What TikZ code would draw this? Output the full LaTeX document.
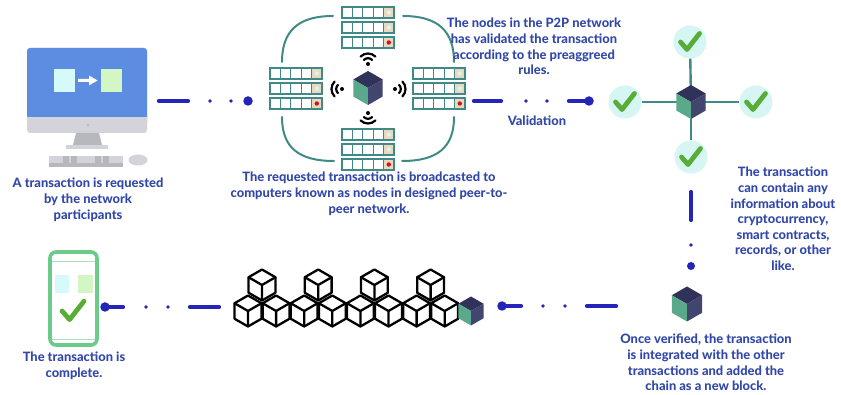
\documentclass[tikz,border=0pt]{standalone}
\usepackage{fontspec}
\setmainfont{Lato}[BoldFont={Lato Heavy}]
\usetikzlibrary{calc}

\definecolor{txtblue}{HTML}{3248A8}
\definecolor{linkblue}{HTML}{2424B8}
\definecolor{netteal}{HTML}{3F8A85}
\definecolor{screenblue}{HTML}{5D8DE0}
\definecolor{bezelgray}{HTML}{D3D4D9}
\definecolor{standgray}{HTML}{B7B8BE}
\definecolor{paleicy}{HTML}{D6FAFA}
\definecolor{palegreen}{HTML}{D2F7C5}
\definecolor{rackbeige}{HTML}{EAD8BF}
\definecolor{ledred}{HTML}{D0141E}
\definecolor{ledcyan}{HTML}{D4F7F5}
\definecolor{cubetop}{HTML}{30325A}
\definecolor{cubeleft}{HTML}{59A98A}
\definecolor{cuberight}{HTML}{42466F}
\definecolor{checkgreen}{HTML}{58AD37}
\definecolor{checkring}{HTML}{D6F6F4}
\definecolor{phonegreen}{HTML}{6CCB8B}

\tikzset{
  lbl/.style={text=txtblue, font=\bfseries\fontsize{12.9}{15.6}\selectfont,
    align=center, inner sep=0pt, anchor=north},
  link/.style={draw=linkblue, line width=4.2pt, line cap=round},
  dotsm/.style={circle, fill=linkblue, inner sep=0pt, minimum size=3.8pt},
  ball/.style={circle, fill=linkblue, inner sep=0pt, minimum size=9.5pt},
  arcline/.style={draw=netteal, line width=2pt, line cap=round},
  spoke/.style={draw=netteal, line width=2.4pt},
  ring/.style={circle, fill=checkring, inner sep=0pt, minimum size=33pt},
  % isometric cube, filled faces, unit radius
  solidcube/.pic={
    \fill[cubetop] (0,-1) -- (0.866,-0.5) -- (0,0) -- (-0.866,-0.5) -- cycle;
    \fill[cubeleft] (-0.866,-0.5) -- (0,0) -- (0,1) -- (-0.866,0.5) -- cycle;
    \fill[cuberight] (0,0) -- (0.866,-0.5) -- (0.866,0.5) -- (0,1) -- cycle;
  },
  % line-art cube, unit radius
  outlinecube/.pic={
    \draw[fill=white, line width=2.3pt, line join=round]
      (0,-1) -- (0.866,-0.5) -- (0.866,0.5) -- (0,1) -- (-0.866,0.5) -- (-0.866,-0.5) -- cycle;
    \draw[line width=2.3pt, line join=round, line cap=round]
      (-0.866,-0.5) -- (0,0) -- (0.866,-0.5) (0,0) -- (0,1);
  },
  % signal icon, radiating upwards from its dot
  wifi/.pic={
    \fill (0,0) circle[radius=2];
    \draw[line width=2.2pt, line cap=round] (-135:5.8) arc[start angle=-135, end angle=-45, radius=5.8];
    \draw[line width=2.2pt, line cap=round] (-135:10.5) arc[start angle=-135, end angle=-45, radius=10.5];
  },
  % three-unit server rack, origin at top left
  rack/.pic={
    \foreach \r/\led in {0/ledcyan, 15/ledcyan, 30/ledred}{
      \fill[white] (0,\r) rectangle (52,\r+11);
      \fill[rackbeige] (41.6,\r) rectangle (52,\r+11);
      \draw[netteal, line width=1.5pt] (0,\r) rectangle (52,\r+11);
      \foreach \c in {10.4,20.8,31.2,41.6}
        \draw[netteal, line width=1.3pt] (\c,\r) -- (\c,\r+11);
      \fill[\led] (46.8,\r+5.5) circle[radius=2.2];
    }
  },
  tick/.pic={
    \draw[checkgreen, line width=4.8pt, line cap=round, line join=round]
      (-9.5,0) -- (-3,7.5) -- (9.5,-8.5);
  },
}

\begin{document}
\begin{tikzpicture}[x=1pt, y=-1pt]
\useasboundingbox (0,0) rectangle (841,395);
\fill[white] (0,0) rectangle (841,395);

% ---------- desktop computer ----------
\fill[bezelgray, rounded corners=3pt] (27,48) rectangle (147,133);
\fill[screenblue, rounded corners=3pt] (27,48) rectangle (147,125);
\fill[bezelgray] (27,117) rectangle (147,125);
\fill[standgray] (88,125) circle[radius=1.4];
\fill[paleicy] (54,69) rectangle (75,92);
\fill[palegreen] (101,69) rectangle (122,92);
\fill[white] (78,79) -- (89,79) -- (89,75.5) -- (97.5,80.5) -- (89,85.5) -- (89,82) -- (78,82) -- cycle;
\fill[standgray] (76,133) -- (99,133) -- (102,145) -- (73,145) -- cycle;
\fill[bezelgray] (66,145) rectangle (108,149.5);
\fill[bezelgray] (49,156) rectangle (123,163);
\fill[standgray] (49,163) rectangle (123,167.5);
\fill[standgray] (63,156) rectangle (69,163);
\fill[standgray] (71,156) rectangle (77,163);
\fill[standgray] (95,156) rectangle (101,163);
\fill[standgray] (103,156) rectangle (109,163);
\fill[bezelgray] (138,160) ellipse[x radius=9.5, y radius=5.5];

\node[lbl] (t1) at (88,178) {A transaction is requested\\by the network\\participants};

% ---------- link: request -> network ----------
\coordinate (c1s) at (159,101);
\coordinate (c1e) at (188,101);
\draw[link] (c1s) -- (c1e);
\node[dotsm] (c1d1) at (210,101) {};
\node[dotsm] (c1d2) at (231,101) {};
\node[ball] (c1b) at (248,101) {};

% ---------- peer-to-peer network ----------
\draw[arcline] (333,16) .. controls (298,16) and (282,31) .. (282,62);
\draw[arcline] (403,16) .. controls (438,16) and (454,31) .. (454,62);
\draw[arcline] (282,117) .. controls (282,147) and (298,161) .. (334,161);
\draw[arcline] (454,117) .. controls (454,147) and (438,161) .. (402,161);

\pic at (342,7) {rack};
\pic at (270,68) {rack};
\pic at (413,68) {rack};
\pic at (342,129) {rack};

\pic at (368,64) {wifi};
\pic[rotate=90] at (342,89) {wifi};
\pic[rotate=-90] at (395,89) {wifi};
\pic[rotate=180] at (368,113) {wifi};

\pic[scale=17] at (368,88) {solidcube};

\node[lbl] (t2) at (369,172) {The requested transaction is broadcasted to\\computers known as nodes in designed peer-to-\\peer network.};

\node[lbl] (t3) at (534,18) {The nodes in the P2P network\\has validated the transaction\\according to the preaggreed\\rules.};

% ---------- link: network -> validation ----------
\coordinate (c2s) at (474,101);
\coordinate (c2e) at (501,101);
\draw[link] (c2s) -- (c2e);
\node[dotsm] (c2d1) at (526,101) {};
\node[dotsm] (c2d2) at (547,101) {};
\node[ball] (c2b) at (589,101) {};
\coordinate (c2t) at (569,101);
\draw[link] (c2t) -- (c2b.center);
\node[lbl] (t4) at (537,116) {Validation};

% ---------- validation cluster ----------
\node[ring] (vt) at (690,42) {};
\node[ring] (vl) at (625,102) {};
\node[ring] (vr) at (756,102) {};
\node[ring] (vb) at (691,157) {};
\coordinate (vc) at (691,102);
\draw[spoke] (vt) -- (vc);
\draw[spoke] (vl) -- (vc);
\draw[spoke] (vr) -- (vc);
\draw[spoke] (vb) -- (vc);
\pic[scale=17] at (691,102) {solidcube};
\pic at (vt.center) {tick};
\pic at (vl.center) {tick};
\pic at (vr.center) {tick};
\pic at (vb.center) {tick};

\node[lbl] (t5) at (783,167) {The transaction\\can contain any\\information about\\cryptocurrency,\\smart contracts,\\records, or other\\like.};

% ---------- link: validation -> new block ----------
\coordinate (c3s) at (691,192);
\coordinate (c3e) at (691,220);
\draw[link] (c3s) -- (c3e);
\node[dotsm] (c3d1) at (691,245) {};
\node[ball, minimum size=8pt] (c3b) at (691,266) {};

\pic[scale=17.5] at (687,304) {solidcube};

\node[lbl] (t6) at (706,334) {Once verified, the transaction\\is integrated with the other\\transactions and added the\\chain as a new block.};

% ---------- link: new block -> chain ----------
\node[ball] (c4b) at (502,306) {};
\coordinate (c4s) at (521,306);
\draw[link] (c4b.center) -- (c4s);
\node[dotsm] (c4d1) at (543,306) {};
\node[dotsm] (c4d2) at (565,306) {};
\coordinate (c4a) at (587,306);
\coordinate (c4z) at (616,306);
\draw[link] (c4a) -- (c4z);

% ---------- blockchain ----------
\foreach \x in {248,276.1,304.2,332.3,360.4,388.5,416.6,444.7}
  \pic[scale=15.5] at (\x,311) {outlinecube};
\foreach \x in {262,318.2,374.4,430.6}
  \pic[scale=15.5] at (\x,285) {outlinecube};
\pic[scale=14.5] at (471,311) {solidcube};

% ---------- link: chain -> phone ----------
\coordinate (c5a) at (219,307);
\coordinate (c5z) at (190,307);
\draw[link] (c5a) -- (c5z);
\node[dotsm] (c5d1) at (168,307) {};
\node[dotsm] (c5d2) at (146,307) {};
\coordinate (c5s) at (123,307);
\node[ball] (c5b) at (105,307) {};
\draw[link] (c5s) -- (c5b.center);

% ---------- phone ----------
\draw[phonegreen, line width=3.6pt, fill=white, rounded corners=6pt] (50,252) rectangle (97,345);
\draw[phonegreen!60, line width=0.8pt] (52,261) -- (95,261);
\draw[phonegreen!60, line width=0.8pt] (52,339) -- (95,339);
\fill[paleicy] (55,275) rectangle (69,293);
\fill[palegreen] (78,275) rectangle (93,293);
\pic[scale=1.15] at (73,311) {tick};

\node[lbl] (t7) at (74,352) {The transaction is\\complete.};
\end{tikzpicture}
\end{document}
